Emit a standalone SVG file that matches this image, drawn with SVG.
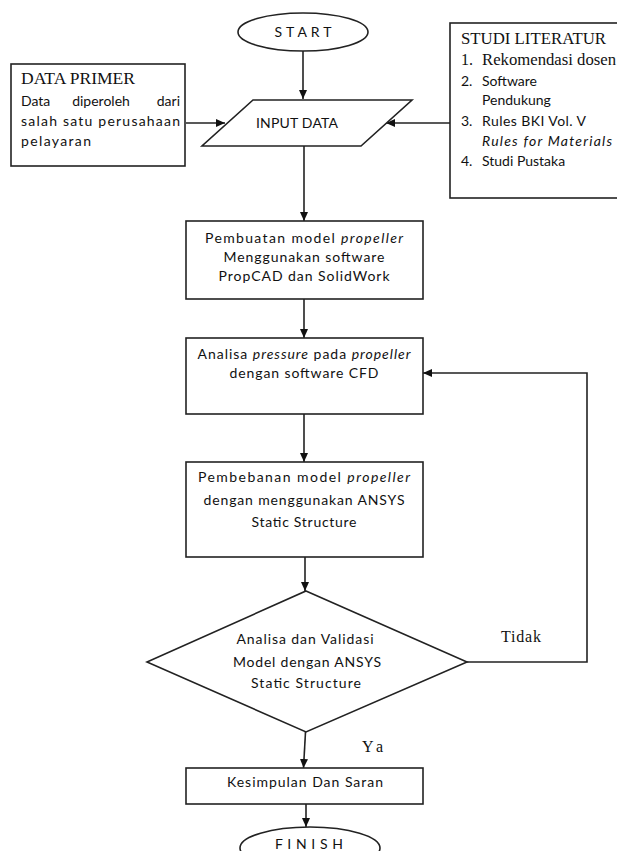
<svg xmlns="http://www.w3.org/2000/svg" width="617" height="851" viewBox="0 0 617 851">
<style>
.shape{fill:#fff;stroke:#222;stroke-width:1.6}
.t{font-family:Lato,"Open Sans",sans-serif;font-size:14px;fill:#111}
.s{font-family:"Liberation Serif","Times New Roman",serif;font-size:16px;fill:#111}
.c{text-anchor:middle}
.e{text-anchor:end}
.i{font-style:italic}
.ln{fill:none;stroke:#222;stroke-width:1.6}
</style>
<defs>
<marker id="ah" markerUnits="userSpaceOnUse" markerWidth="9" markerHeight="8" refX="9" refY="4" orient="auto">
<path d="M0,0 L9,4 L0,8 z" fill="#111"/>
</marker>
</defs>
<g id="connectors">
<path class="ln" d="M303,51 L303,99" marker-end="url(#ah)"/>
<path class="ln" d="M186,123 L225,123" marker-end="url(#ah)"/>
<path class="ln" d="M450,123 L386,123" marker-end="url(#ah)"/>
<path class="ln" d="M304,146 L304,221" marker-end="url(#ah)"/>
<path class="ln" d="M304,299 L304,338" marker-end="url(#ah)"/>
<path class="ln" d="M304,414 L304,462" marker-end="url(#ah)"/>
<path class="ln" d="M305,557 L305,591" marker-end="url(#ah)"/>
<path class="ln" d="M467,662 L587,662 L587,373 L423,373" marker-end="url(#ah)"/>
<path class="ln" d="M305.5,732 L303.5,768" marker-end="url(#ah)"/>
<path class="ln" d="M306,804 L306,827" marker-end="url(#ah)"/>
</g>
<g id="start">
<ellipse class="shape" cx="303" cy="32" rx="65" ry="19"/>
<text class="t c" x="303" y="37" textLength="57" font-size="13">S T A R T</text>
</g>
<g id="data-primer">
<rect class="shape" x="11" y="64" width="174" height="102"/>
<text class="s" x="21" y="84" textLength="114" lengthAdjust="spacingAndGlyphs">DATA PRIMER</text>
<text class="t" x="21" y="106">Data</text>
<text class="t c" x="101" y="106">diperoleh</text>
<text class="t e" x="180" y="106">dari</text>
<text class="t" x="21" y="126" textLength="159">salah satu perusahaan</text>
<text class="t" x="21" y="146" textLength="70">pelayaran</text>
</g>
<g id="studi-literatur">
<rect class="shape" x="450" y="23" width="172" height="175"/>
<text class="s" x="461" y="44" textLength="145" lengthAdjust="spacingAndGlyphs">STUDI LITERATUR</text>
<text class="s" x="461" y="65">1.</text>
<text class="s" x="482" y="65" textLength="134" lengthAdjust="spacingAndGlyphs">Rekomendasi dosen</text>
<text class="t" x="461" y="86">2.</text>
<text class="t" x="482" y="86">Software</text>
<text class="t" x="482" y="105">Pendukung</text>
<text class="t" x="461" y="126">3.</text>
<text class="t" x="482" y="126" textLength="104">Rules BKI Vol. V</text>
<text class="t i" x="482" y="146" textLength="130">Rules for Materials</text>
<text class="t" x="461" y="166">4.</text>
<text class="t" x="482" y="166">Studi Pustaka</text>
</g>
<g id="input-data">
<polygon class="shape" points="253,100 412,100 361,146 202,146"/>
<text class="t c" x="297" y="128" textLength="82">INPUT DATA</text>
</g>
<g id="pembuatan">
<rect class="shape" x="186" y="221" width="237" height="78"/>
<text class="t c" x="304" y="243" textLength="198">Pembuatan model <tspan class="i">propeller</tspan></text>
<text class="t c" x="304" y="262" textLength="161">Menggunakan software</text>
<text class="t c" x="304" y="281" textLength="171">PropCAD dan SolidWork</text>
</g>
<g id="analisa-cfd">
<rect class="shape" x="186" y="338" width="237" height="76"/>
<text class="t c" x="304" y="359" textLength="213">Analisa <tspan class="i">pressure</tspan> pada <tspan class="i">propeller</tspan></text>
<text class="t c" x="304" y="378" textLength="149">dengan software CFD</text>
</g>
<g id="pembebanan">
<rect class="shape" x="186" y="462" width="237" height="95"/>
<text class="t c" x="304" y="482" textLength="212">Pembebanan model <tspan class="i">propeller</tspan></text>
<text class="t c" x="304" y="505" textLength="201">dengan menggunakan ANSYS</text>
<text class="t c" x="304" y="527" textLength="105">Static Structure</text>
</g>
<g id="validasi">
<polygon class="shape" points="306,591 467,662 306,732 147,662"/>
<text class="t c" x="305" y="644" textLength="137">Analisa dan Validasi</text>
<text class="t c" x="307" y="667" textLength="148">Model dengan ANSYS</text>
<text class="t c" x="306" y="688" textLength="110">Static Structure</text>
</g>
<text class="s" x="501" y="642" textLength="40">Tidak</text>
<text class="s" x="362" y="752" textLength="21">Ya</text>
<g id="kesimpulan">
<rect class="shape" x="186" y="768" width="237" height="36"/>
<text class="t c" x="305" y="787" textLength="156">Kesimpulan Dan Saran</text>
</g>
<g id="finish">
<ellipse class="shape" cx="310" cy="848" rx="70" ry="21"/>
<text class="t c" x="309" y="849" textLength="68" font-size="13">F I N I S H</text>
</g>
</svg>
